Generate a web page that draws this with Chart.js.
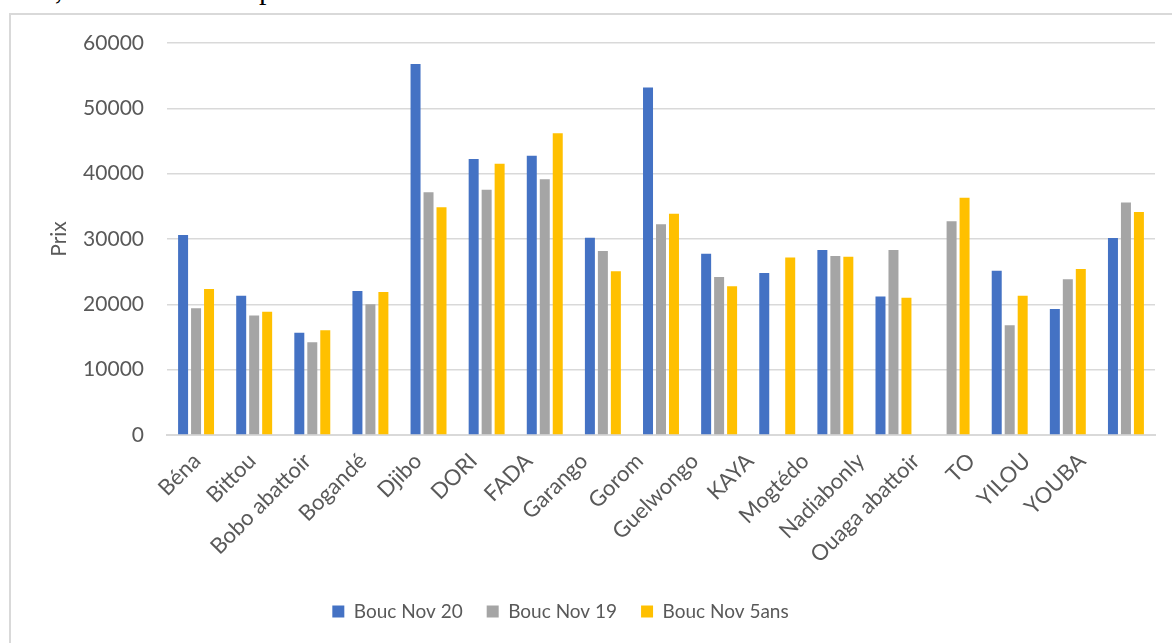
<!DOCTYPE html>
<html>
<head>
<meta charset="utf-8">
<script src="https://cdn.jsdelivr.net/npm/chart.js@4"></script>
<style>
  body { margin: 0; width: 1172px; height: 643px; overflow: hidden; background: #fff; position: relative; }
  #intro { position: absolute; left: 0; top: -26px; font: 30px "Liberation Serif", serif; line-height: 30px; color: #000; white-space: nowrap; }
  #frame { position: absolute; left: 9px; top: 13px; width: 1200px; height: 700px; border: 2px solid #d9d9d9; }
  #wrap { position: absolute; left: 0; top: 0; width: 1172px; height: 643px; }
</style>
</head>
<body>
<div id="intro">65%, 57% et 57% respectivement</div>
<div id="frame"></div>
<div id="wrap"><canvas id="prix-chart"></canvas></div>
<script>
// Marchés
var marches = ['Béna', 'Bittou', 'Bobo abattoir', 'Bogandé', 'Djibo', 'DORI', 'FADA', 'Garango', 'Gorom',
  'Guelwongo', 'KAYA', 'Mogtédo', 'Nadiabonly', 'Ouaga abattoir', 'TO', 'YILOU', 'YOUBA'];

// Prix du bouc (FCFA)
var boucNov20 = [30600, 21300, 15650, 22050, 56800, 42250, 42750, 30200, 53200,
  27750, 24800, 28300, 21200, null, 25150, 19300, 30150];
var boucNov19 = [19400, 18300, 14200, 20000, 37150, 37550, 39150, 28150, 32250,
  24200, null, 27400, 28300, 32700, 16800, 23850, 35600];
var boucNov5ans = [22350, 18850, 16050, 21900, 34850, 41500, 46200, 25050, 33850,
  22750, 27150, 27300, 21000, 36300, 21300, 25400, 34150];

var seriesNames = ['Bouc Nov 20', 'Bouc Nov 19', 'Bouc Nov 5ans'];
var yTicks = [0, 10000, 20000, 30000, 40000, 50000, 60000];

var textColor = '#595959';
var gridColor = '#d9d9d9';

// move the legend a bit to the left, under the middle of the frame
var legendShift = {
  id: 'legendShift',
  afterLayout: function (chart) {
    chart.legend.left -= 22;
    chart.legend.right -= 22;
  }
};

function makeDataset(label, data, color) {
  return {
    label: label,
    data: data,
    backgroundColor: color,
    borderWidth: 0,
    categoryPercentage: 0.67,
    barPercentage: 0.77
  };
}

var ctx = document.getElementById('prix-chart').getContext('2d');
var myChart = new Chart(ctx, {
  type: 'bar',
  data: {
    labels: marches,
    datasets: [
      makeDataset(seriesNames[0], boucNov20, '#4472c4'),
      makeDataset(seriesNames[1], boucNov19, '#a5a5a5'),
      makeDataset(seriesNames[2], boucNov5ans, '#ffc000')
    ]
  },
  options: {
    responsive: true,
    maintainAspectRatio: false,
    animation: false,
    layout: { padding: { left: 10, right: 17, top: 43, bottom: 12 } },
    plugins: {
      tooltip: { enabled: false },
      legend: {
        position: 'bottom',
        labels: {
          color: textColor,
          font: { family: 'Lato', size: 19 },
          boxWidth: 12,
          boxHeight: 12,
          padding: 24
        }
      }
    },
    scales: {
      // bars are placed on this one, it stays hidden
      x: {
        display: false
      },
      // market names, a little tighter than the bar groups
      xNoms: {
        type: 'linear',
        position: 'bottom',
        offset: false,
        min: -0.54,
        max: 17.32,
        afterBuildTicks: function (scale) {
          scale.ticks = marches.map(function (m, i) { return { value: i }; });
        },
        grid: { display: false, drawTicks: false },
        border: { color: gridColor, width: 2 },
        ticks: {
          color: textColor,
          font: { family: 'Lato', size: 22 },
          minRotation: 45,
          maxRotation: 45,
          autoSkip: false,
          padding: 13,
          callback: function (value) { return marches[value]; }
        },
        afterFit: function (scale) { scale.height = 143; }
      },
      y: {
        min: 0,
        max: 60000,
        afterBuildTicks: function (scale) {
          scale.ticks = yTicks.map(function (v) { return { value: v }; });
        },
        grid: { color: gridColor, lineWidth: 1.5, drawTicks: false },
        border: { display: false },
        ticks: {
          color: textColor,
          font: { family: 'Lato', size: 21 },
          padding: 23,
          callback: function (value) { return String(value); }
        },
        title: {
          display: true,
          text: 'Prix',
          color: textColor,
          font: { family: 'Lato', size: 21 },
          padding: { top: 37, bottom: 0 }
        },
        afterFit: function (scale) { scale.width = 157; }
      }
    }
  },
  plugins: [legendShift]
});
</script>
</body>
</html>
